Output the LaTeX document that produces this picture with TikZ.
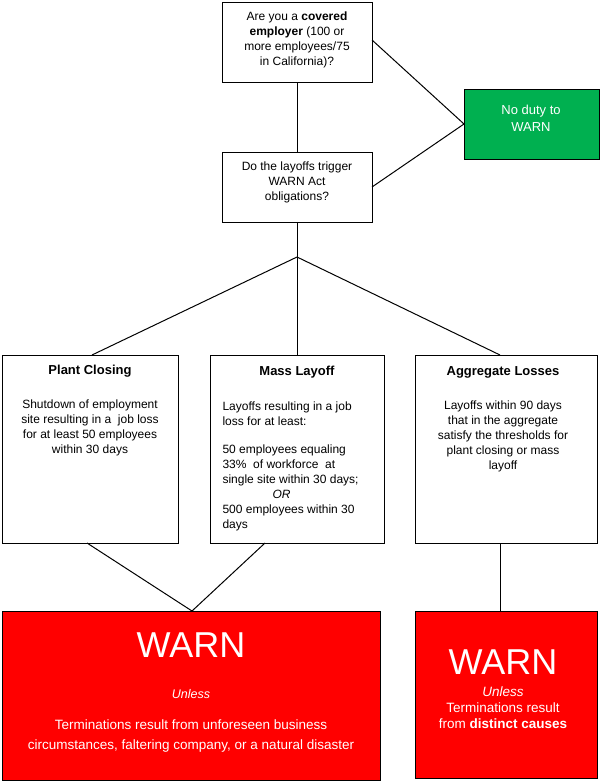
\documentclass[tikz,border=0pt]{standalone}
\usepackage{fontspec}
\setmainfont{Liberation Sans}
\definecolor{wred}{RGB}{255,0,0}
\definecolor{wgreen}{RGB}{0,176,80}
\begin{document}
\begin{tikzpicture}[x=1pt,y=-1pt,
  box/.style={draw,line width=1.3pt,anchor=north west,inner sep=0pt},
  red/.style={box,fill=wred,draw=black},
  txt/.style={align=center,font=\fontsize{12}{15}\selectfont},
  ttl/.style={font=\bfseries\fontsize{13}{15}\selectfont},
  ln/.style={line width=1pt}]
\useasboundingbox (0,0) rectangle (602,783);
\node[box,minimum width=150,minimum height=80] (q1) at (222,2) {};
\node[txt] at (297,40) {Are you a \textbf{covered}\\\textbf{employer} (100 or\\more employees/75\\in California)?};
\node[box,fill=wgreen,minimum width=135,minimum height=70] (no) at (464,89) {};
\node[txt,text=white,font=\fontsize{13}{17}\selectfont] at (531,118) {No duty to\\WARN};
\node[box,minimum width=150,minimum height=70] (q2) at (222,152) {};
\node[txt] at (297,182) {Do the layoffs trigger\\WARN Act\\obligations?};
\coordinate (j) at (297,257);
\coordinate (q2b) at (297,222);
\node[box,minimum width=176,minimum height=188] (pc) at (2,355) {};
\node[box,minimum width=174,minimum height=188] (ml) at (210,355) {};
\node[box,minimum width=182,minimum height=188] (ag) at (415,355) {};
\node[red,minimum width=378,minimum height=169] (w1) at (2,611) {};
\node[red,minimum width=182,minimum height=167] (w2) at (415,611) {};
\draw[ln] (q1.south) -- (q2.north);
\draw[ln] (372,40) -- (464,124) -- (372,187);
\draw[ln] (q2b) -- (j);
\draw[ln] (j) -- (92,355); \draw[ln] (j) -- (297,355); \draw[ln] (j) -- (500,355);
\draw[ln] (87,543) -- (192,611) -- (265,543);
\draw[ln] (500,543) -- (500,611);
\node[ttl] at (90,371) {Plant Closing};
\node[txt,anchor=north] at (90,396) {Shutdown of employment\\site resulting in a \ job loss\\for at least 50 employees\\within 30 days};
\node[ttl] at (297,372) {Mass Layoff};
\node[txt,anchor=north west,align=left] at (219,398) {Layoffs resulting in a job\\loss for at least:\\[13pt]50 employees equaling\\33\% \ of workforce \ at\\single site within 30 days;\\\hspace*{50pt}\textit{OR}\\500 employees within 30\\days};
\node[ttl] at (503,372) {Aggregate Losses};
\node[txt,anchor=north] at (503,397) {Layoffs within 90 days\\that in the aggregate\\satisfy the thresholds for\\plant closing or mass\\layoff};
\node[text=white,font=\fontsize{36}{40}\selectfont] at (191,645) {WARN};
\node[text=white,font=\itshape\fontsize{12.5}{14}\selectfont] at (191,694) {Unless};
\node[txt,text=white,font=\fontsize{13.5}{20}\selectfont] at (191,736) {Terminations result from unforeseen business\\circumstances, faltering company, or a natural disaster};
\node[text=white,font=\fontsize{36}{40}\selectfont] at (503,662) {WARN};
\node[txt,text=white,font=\fontsize{13.5}{16}\selectfont] at (503,708) {\textit{Unless}\\Terminations result\\from \textbf{distinct causes}};
\end{tikzpicture}
\end{document}
